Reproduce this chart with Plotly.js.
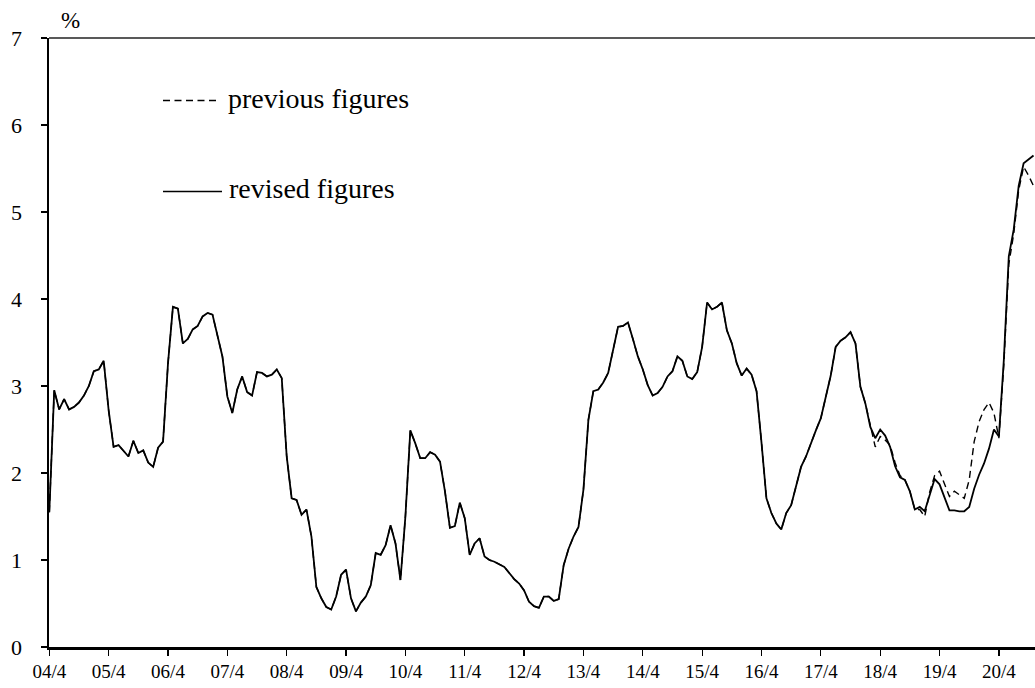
<!DOCTYPE html>
<html>
<head>
<meta charset="utf-8">
<script src="https://cdn.plot.ly/plotly-3.0.1.min.js"></script>
<style>
  html, body { margin: 0; padding: 0; background: #fff; }
  #chart { width: 1035px; height: 688px; }
</style>
</head>
<body>
<div id="chart"></div>
<script>
// Month categories: 2004/4 .. 2020/11 (one entry per month)
const startYear = 2004, startMonth = 4, monthCount = 200;
const categories = [];
for (let k = 0; k < monthCount; k++) {
  const m = startMonth - 1 + k;
  categories.push((startYear + Math.floor(m / 12)) + '/' + (m % 12 + 1));
}

const tickCategories = ['2004/4','2005/4','2006/4','2007/4','2008/4','2009/4','2010/4','2011/4','2012/4',
  '2013/4','2014/4','2015/4','2016/4','2017/4','2018/4','2019/4','2020/4'];
const tickLabels = ['04/4','05/4','06/4','07/4','08/4','09/4','10/4','11/4','12/4',
  '13/4','14/4','15/4','16/4','17/4','18/4','19/4','20/4'];

// revised figures (%)
const revised = [
  1.55, 2.95, 2.73, 2.85, 2.73, 2.76, 2.81, 2.89, 3.00, 3.17, 3.19, 3.29,
  2.72, 2.30, 2.32, 2.26, 2.19, 2.37, 2.23, 2.26, 2.12, 2.07, 2.29, 2.36,
  3.26, 3.91, 3.89, 3.49, 3.54, 3.65, 3.69, 3.80, 3.84, 3.82, 3.57, 3.34,
  2.88, 2.69, 2.96, 3.11, 2.93, 2.89, 3.16, 3.15, 3.11, 3.13, 3.19, 3.09,
  2.19, 1.71, 1.69, 1.52, 1.58, 1.27, 0.69, 0.56, 0.46, 0.43, 0.58, 0.83,
  0.89, 0.56, 0.41, 0.51, 0.58, 0.71, 1.08, 1.06, 1.17, 1.40, 1.19, 0.77,
  1.50, 2.49, 2.34, 2.17, 2.17, 2.24, 2.21, 2.13, 1.79, 1.37, 1.39, 1.66,
  1.48, 1.06, 1.19, 1.25, 1.04, 1.00, 0.98, 0.95, 0.92, 0.85, 0.78, 0.73,
  0.65, 0.52, 0.47, 0.45, 0.58, 0.58, 0.53, 0.55, 0.94, 1.13, 1.27, 1.38,
  1.81, 2.61, 2.94, 2.96, 3.04, 3.15, 3.42, 3.68, 3.69, 3.73, 3.54, 3.34,
  3.19, 3.01, 2.89, 2.92, 2.99, 3.11, 3.17, 3.34, 3.29, 3.11, 3.08, 3.16,
  3.45, 3.96, 3.88, 3.91, 3.96, 3.64, 3.49, 3.26, 3.12, 3.20, 3.13, 2.94,
  2.35, 1.71, 1.54, 1.42, 1.35, 1.54, 1.63, 1.86, 2.07, 2.19, 2.35, 2.49,
  2.63, 2.88, 3.12, 3.45, 3.52, 3.56, 3.62, 3.49, 2.99, 2.80, 2.53, 2.40,
  2.50, 2.43, 2.30, 2.08, 1.95, 1.92, 1.79, 1.58, 1.61, 1.56, 1.75, 1.93,
  1.87, 1.72, 1.57, 1.57, 1.56, 1.56, 1.61, 1.82, 1.98, 2.11, 2.28, 2.50,
  2.42, 3.30, 4.49, 4.80, 5.30, 5.56, 5.60, 5.65
];

// previous figures (%)
const previous = [
  1.55, 2.95, 2.73, 2.85, 2.73, 2.76, 2.81, 2.89, 3.00, 3.17, 3.19, 3.29,
  2.72, 2.30, 2.32, 2.26, 2.19, 2.37, 2.23, 2.26, 2.12, 2.07, 2.29, 2.36,
  3.26, 3.91, 3.89, 3.49, 3.54, 3.65, 3.69, 3.80, 3.84, 3.82, 3.57, 3.34,
  2.88, 2.69, 2.96, 3.11, 2.93, 2.89, 3.16, 3.15, 3.11, 3.13, 3.19, 3.09,
  2.19, 1.71, 1.69, 1.52, 1.58, 1.27, 0.69, 0.56, 0.46, 0.43, 0.58, 0.83,
  0.89, 0.56, 0.41, 0.51, 0.58, 0.71, 1.08, 1.06, 1.17, 1.40, 1.19, 0.77,
  1.50, 2.49, 2.34, 2.17, 2.17, 2.24, 2.21, 2.13, 1.79, 1.37, 1.39, 1.66,
  1.48, 1.06, 1.19, 1.25, 1.04, 1.00, 0.98, 0.95, 0.92, 0.85, 0.78, 0.73,
  0.65, 0.52, 0.47, 0.45, 0.58, 0.58, 0.53, 0.55, 0.94, 1.13, 1.27, 1.38,
  1.81, 2.61, 2.94, 2.96, 3.04, 3.15, 3.42, 3.68, 3.69, 3.73, 3.54, 3.34,
  3.19, 3.01, 2.89, 2.92, 2.99, 3.11, 3.17, 3.34, 3.29, 3.11, 3.08, 3.16,
  3.45, 3.96, 3.88, 3.91, 3.96, 3.64, 3.49, 3.26, 3.12, 3.20, 3.13, 2.94,
  2.35, 1.71, 1.54, 1.42, 1.35, 1.54, 1.63, 1.86, 2.07, 2.19, 2.35, 2.49,
  2.63, 2.88, 3.12, 3.45, 3.52, 3.56, 3.62, 3.49, 2.99, 2.80, 2.53, 2.30,
  2.42, 2.38, 2.32, 2.12, 1.97, 1.92, 1.79, 1.58, 1.58, 1.50, 1.78, 1.97,
  2.02, 1.88, 1.73, 1.79, 1.75, 1.71, 1.92, 2.36, 2.59, 2.73, 2.81, 2.69,
  2.40, 3.25, 4.40, 4.75, 5.25, 5.52, 5.42, 5.30
];

const seriesNames = ['previous figures', 'revised figures'];
const serif = '"Liberation Serif", "Times New Roman", Times, serif';

const traces = [
  { type: 'scatter', mode: 'lines', name: seriesNames[0], x: categories, y: previous,
    line: { color: '#000', width: 1.4, dash: '7px,4.5px' }, hoverinfo: 'x+y' },
  { type: 'scatter', mode: 'lines', name: seriesNames[1], x: categories, y: revised,
    line: { color: '#000', width: 1.8 }, hoverinfo: 'x+y' }
];

const L = 49, R = 1035, T = 38, B = 647;
const px = (x) => (x - L) / (R - L);
const py = (y) => (B - y) / (B - T);

const layout = {
  width: 1035, height: 688,
  margin: { l: L, r: 1035 - R, t: T, b: 688 - B, pad: 0 },
  paper_bgcolor: '#fff', plot_bgcolor: '#fff',
  showlegend: false,
  font: { family: serif, color: '#000', size: 20 },
  xaxis: {
    type: 'category',
    range: [-0.06, 199.3],
    tickmode: 'array', tickvals: tickCategories, ticktext: tickLabels,
    showline: true, linecolor: '#000', linewidth: 2.5,
    ticks: 'outside', ticklen: 6, tickwidth: 1.3, tickcolor: '#000',
    showgrid: false, zeroline: false,
    tickfont: { family: serif, size: 19, color: '#000' },
    ticklabelstandoff: 0
  },
  yaxis: {
    range: [0, 7], dtick: 1, tick0: 0,
    showline: true, linecolor: '#000', linewidth: 2.5,
    ticks: 'outside', ticklen: 6, tickwidth: 1.3, tickcolor: '#000',
    showgrid: false, zeroline: false,
    tickfont: { family: serif, size: 22, color: '#000' },
    ticklabelstandoff: 14
  },
  shapes: [
    { type: 'line', xref: 'paper', yref: 'paper', x0: 0, x1: 1, y0: 1, y1: 1,
      line: { color: '#222', width: 1.5 } },
    { type: 'line', xref: 'paper', yref: 'paper', x0: px(163), x1: px(218), y0: py(100.5), y1: py(100.5),
      line: { color: '#000', width: 1.4, dash: '7px,4.5px' } },
    { type: 'line', xref: 'paper', yref: 'paper', x0: px(163), x1: px(222), y0: py(191.5), y1: py(191.5),
      line: { color: '#000', width: 1.6 } }
  ],
  annotations: [
    { xref: 'paper', yref: 'paper', x: px(59), y: py(21), xanchor: 'left', yanchor: 'middle',
      text: '%', showarrow: false, font: { family: serif, size: 23, color: '#000' } },
    { xref: 'paper', yref: 'paper', x: px(226), y: py(98.5), xanchor: 'left', yanchor: 'middle',
      text: seriesNames[0], showarrow: false, font: { family: serif, size: 28, color: '#000' } },
    { xref: 'paper', yref: 'paper', x: px(227), y: py(188.5), xanchor: 'left', yanchor: 'middle',
      text: seriesNames[1], showarrow: false, font: { family: serif, size: 28, color: '#000' } }
  ]
};

Plotly.newPlot('chart', traces, layout, { staticPlot: true, displayModeBar: false });
</script>
</body>
</html>
